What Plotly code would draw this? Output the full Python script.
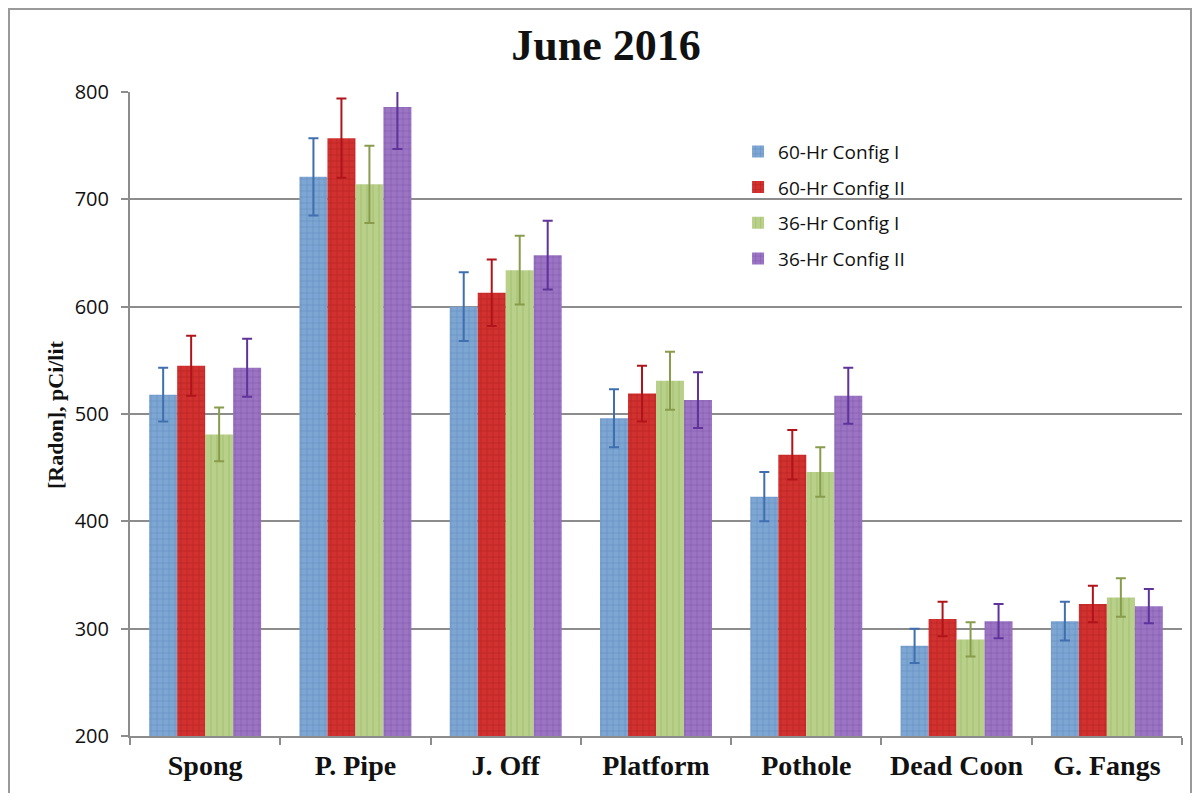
import plotly.graph_objects as go

categories = ["Spong", "P. Pipe", "J. Off", "Platform", "Pothole", "Dead Coon", "G. Fangs"]
series_names = ["60-Hr Config I", "60-Hr Config II", "36-Hr Config I", "36-Hr Config II"]

v60_cfg1 = [518, 721, 600, 496, 423, 284, 307]
v60_cfg2 = [545, 757, 613, 519, 462, 309, 323]
v36_cfg1 = [481, 714, 634, 531, 446, 290, 329]
v36_cfg2 = [543, 786, 648, 513, 517, 307, 321]

e60_cfg1 = [25, 36, 32, 27, 23, 16, 18]
e60_cfg2 = [28, 37, 31, 26, 23, 16, 17]
e36_cfg1 = [25, 36, 32, 27, 23, 16, 18]
e36_cfg2 = [27, 39, 32, 26, 26, 16, 16]

yticks = [200, 300, 400, 500, 600, 700, 800]

values = [v60_cfg1, v60_cfg2, v36_cfg1, v36_cfg2]
errors = [e60_cfg1, e60_cfg2, e36_cfg1, e36_cfg2]
colors = ["#7ea6d3", "#d2322f", "#b8d08a", "#9b74c4"]
fgcolors = ["#4f7bb3", "#9c1513", "#98b561", "#6f48a0"]
errcolors = ["#3f6fae", "#b0141a", "#889c4c", "#5f339a"]
shapes = ["+", "+", "|", "+"]

# figure is sized so the page (with the browser's 8px body margin) fits the 1200x801 window
W, H = 1184, 785
fig = go.Figure()
for i in range(4):
    fig.add_trace(go.Bar(
        name=series_names[i],
        x=categories,
        y=values[i],
        legendgroup=f"g{i}",
        marker=dict(
            color=colors[i],
            line=dict(width=0),
            pattern=dict(shape=shapes[i], fgcolor=fgcolors[i], bgcolor=colors[i],
                         size=6, solidity=0.22),
        ),
        error_y=dict(type="data", array=errors[i], visible=True,
                     color=errcolors[i], thickness=2, width=5),
    ))

pl, pt, pw, ph = 122, 84, 1052, 644
fig.update_layout(
    width=W, height=H,
    margin=dict(l=pl, r=W - pl - pw, t=pt, b=H - pt - ph),
    paper_bgcolor="white",
    plot_bgcolor="white",
    barmode="group",
    bargap=0.255,
    bargroupgap=0,
    showlegend=True,
    legend=dict(
        x=0.578, y=0.937, xanchor="left", yanchor="top",
        font=dict(family="Open Sans", size=19, color="#111111"),
        traceorder="grouped", tracegroupgap=8,
        bgcolor="rgba(255,255,255,0)",
    ),
    title=dict(
        text="<b>June 2016</b>",
        x=598 / W, xanchor="center", y=1 - 37 / H, yanchor="middle",
        font=dict(family="Liberation Serif", size=44, color="#111111"),
    ),
    xaxis=dict(
        type="category",
        tickson="boundaries",
        ticks="outside", ticklen=7, tickcolor="#8c8c8c", tickwidth=2,
        showline=True, linecolor="#8c8c8c", linewidth=2,
        showgrid=False,
        tickfont=dict(family="Liberation Serif", size=28, color="#111111"),
        tickprefix="<b>", ticksuffix="</b>",
        ticklabelstandoff=3,
    ),
    yaxis=dict(
        range=[200, 800],
        tickvals=yticks,
        ticks="outside", ticklen=7, tickcolor="#8c8c8c", tickwidth=2,
        showline=True, linecolor="#8c8c8c", linewidth=2,
        showgrid=True, gridcolor="#8c8c8c", gridwidth=2,
        zeroline=False,
        tickfont=dict(family="Open Sans", size=20, color="#111111"),
        ticklabelstandoff=8,
    ),
    annotations=[dict(
        text="<b>[Radon], pCi/lit</b>",
        xref="paper", yref="paper",
        x=-0.0713, y=0.5, xanchor="center", yanchor="middle",
        textangle=-90, showarrow=False,
        font=dict(family="Liberation Serif", size=22, color="#111111"),
    )],
    shapes=[dict(
        type="rect", xref="paper", yref="paper",
        x0=(1 - pl) / pw, x1=(W - 1 - pl) / pw,
        y0=-(H + 20 - pt - ph) / ph, y1=(pt + ph - 1) / ph,
        line=dict(color="#9a9a9a", width=2), fillcolor="rgba(0,0,0,0)",
        layer="below",
    )],
)

fig.write_html("out.html")
